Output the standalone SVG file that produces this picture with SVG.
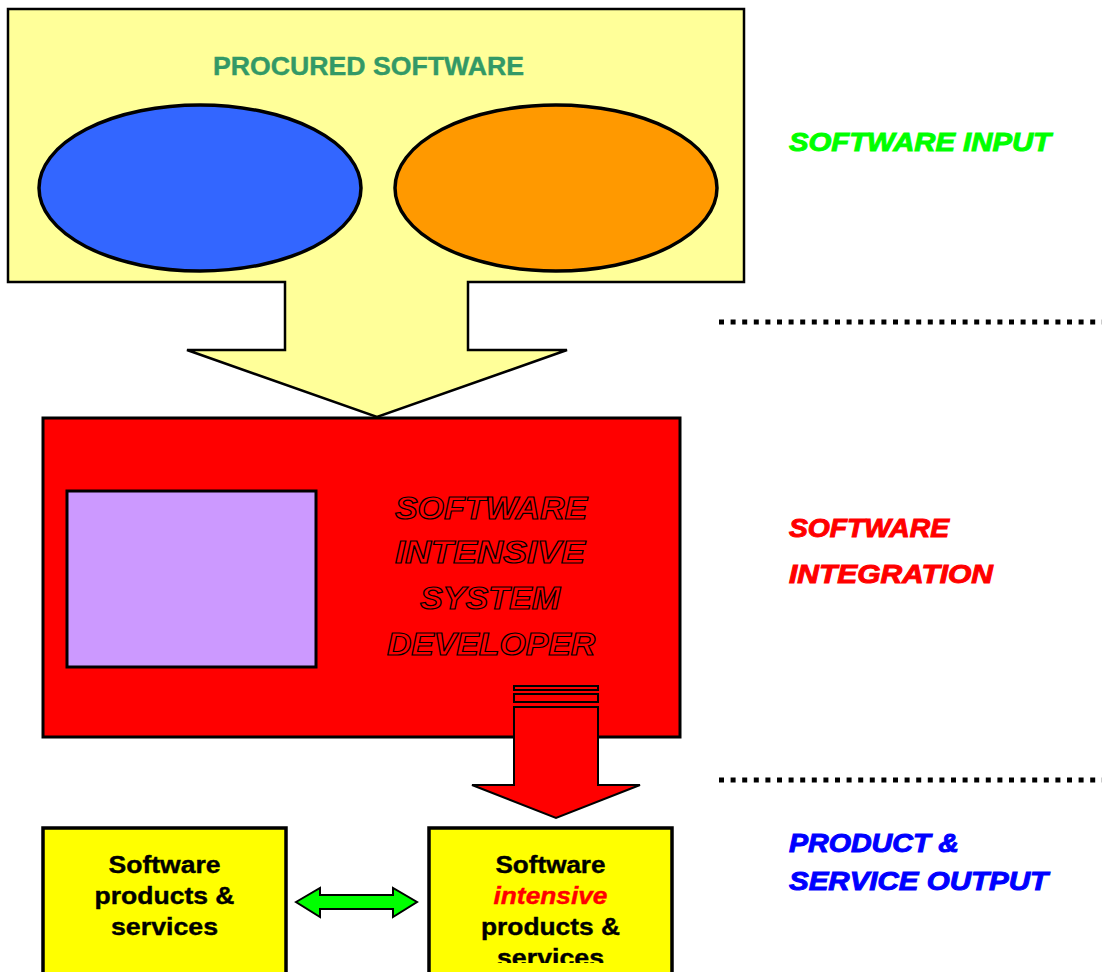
<svg xmlns="http://www.w3.org/2000/svg" width="1102" height="972" viewBox="0 0 1102 972">
  <defs>
    <style>
      .sans { font-family: "Liberation Sans", Arial, sans-serif; font-weight: bold; }
      .label { font-size: 26px; font-style: italic; stroke-width: 1; }
      .outlined { font-size: 31px; font-style: italic; fill: #FF0000; stroke: #000000; stroke-width: 1.2; }
      .boxtext { font-size: 24px; fill: #000000; stroke: #000000; stroke-width: 0.4; text-anchor: middle; }
      .dots { fill: none; stroke: #000000; stroke-width: 5; stroke-dasharray: 5 6.6; }
    </style>
    <clipPath id="rightBoxClip">
      <rect x="429" y="828" width="243" height="135"/>
    </clipPath>
  </defs>

  <rect width="1102" height="972" fill="#FFFFFF"/>

  <!-- Procured software box merged with its downward arrow -->
  <g id="procured-software">
    <path d="M8,9 H744 V282 H468 V350 H567 L377,417 L187,350 H285 V282 H8 Z" fill="#FFFF99" stroke="#000000" stroke-width="2.5" stroke-linejoin="miter"/>
    <text class="sans" x="368.5" y="75" font-size="26" fill="#339966" stroke="#339966" stroke-width="0.4" text-anchor="middle" textLength="311" lengthAdjust="spacingAndGlyphs">PROCURED SOFTWARE</text>
  </g>
  <g id="blue-ellipse">
    <ellipse cx="200" cy="188" rx="161" ry="83" fill="#3366FF" stroke="#000000" stroke-width="3.5"/>
  </g>
  <g id="orange-ellipse">
    <ellipse cx="556" cy="188" rx="161" ry="83" fill="#FF9900" stroke="#000000" stroke-width="3.5"/>
  </g>

  <!-- System developer block -->
  <g id="system-developer">
    <rect x="43" y="418" width="637" height="319" fill="#FF0000" stroke="#000000" stroke-width="3"/>
    <text class="sans outlined" x="395" y="519" textLength="192" lengthAdjust="spacingAndGlyphs">SOFTWARE</text>
    <text class="sans outlined" x="395" y="563" textLength="190" lengthAdjust="spacingAndGlyphs">INTENSIVE</text>
    <text class="sans outlined" x="420" y="609" textLength="140" lengthAdjust="spacingAndGlyphs">SYSTEM</text>
    <text class="sans outlined" x="387" y="655" textLength="208" lengthAdjust="spacingAndGlyphs">DEVELOPER</text>
  </g>
  <g id="purple-panel">
    <rect x="67" y="491" width="249" height="176" fill="#CC99FF" stroke="#000000" stroke-width="3"/>
  </g>

  <!-- Connectors -->
  <g id="connectors">
    <g id="output-arrow" fill="#FF0000" stroke="#000000" stroke-width="2">
      <rect x="514" y="686" width="84" height="4"/>
      <rect x="514" y="694" width="84" height="8"/>
      <path d="M514,707 H598 V785 H640 L556,818 L472,785 H514 Z" stroke-linejoin="miter"/>
    </g>
    <path id="exchange-arrow" d="M296,902 L320,888 V895 H393 V888 L417,902 L393,917 V909 H320 V917 Z" fill="#00FF00" stroke="#000000" stroke-width="2" stroke-linejoin="miter"/>
  </g>

  <!-- Layer separators -->
  <g id="separators">
    <line class="dots" x1="719" y1="322" x2="1102" y2="322"/>
    <line class="dots" x1="719" y1="780" x2="1102" y2="780"/>
  </g>

  <!-- Layer labels -->
  <g id="layer-labels" class="sans label">
    <text x="789" y="151" fill="#00FF00" stroke="#00FF00" textLength="262" lengthAdjust="spacingAndGlyphs">SOFTWARE INPUT</text>
    <text x="789" y="537" fill="#FF0000" stroke="#FF0000" textLength="160" lengthAdjust="spacingAndGlyphs">SOFTWARE</text>
    <text x="789" y="583" fill="#FF0000" stroke="#FF0000" textLength="204" lengthAdjust="spacingAndGlyphs">INTEGRATION</text>
    <text x="789" y="852" fill="#0000FF" stroke="#0000FF" textLength="170" lengthAdjust="spacingAndGlyphs">PRODUCT &amp;</text>
    <text x="789" y="890" fill="#0000FF" stroke="#0000FF" textLength="259" lengthAdjust="spacingAndGlyphs">SERVICE OUTPUT</text>
  </g>

  <!-- Output boxes -->
  <g id="software-products">
    <rect x="43" y="828" width="243" height="160" fill="#FFFF00" stroke="#000000" stroke-width="3.5"/>
    <text class="sans boxtext" x="164.5" y="873" textLength="112" lengthAdjust="spacingAndGlyphs">Software</text>
    <text class="sans boxtext" x="164.5" y="904" textLength="140" lengthAdjust="spacingAndGlyphs">products &amp;</text>
    <text class="sans boxtext" x="164.5" y="935" textLength="107" lengthAdjust="spacingAndGlyphs">services</text>
  </g>
  <g id="intensive-products">
    <rect x="429" y="828" width="243" height="160" fill="#FFFF00" stroke="#000000" stroke-width="3.5"/>
    <g clip-path="url(#rightBoxClip)">
      <text class="sans boxtext" x="550.5" y="873" textLength="110" lengthAdjust="spacingAndGlyphs">Software</text>
      <text class="sans boxtext" x="550.5" y="904" font-style="italic" style="fill:#FF0000;stroke:#FF0000" textLength="114" lengthAdjust="spacingAndGlyphs">intensive</text>
      <text class="sans boxtext" x="550.5" y="935" textLength="139" lengthAdjust="spacingAndGlyphs">products &amp;</text>
      <text class="sans boxtext" x="550.5" y="966" textLength="107" lengthAdjust="spacingAndGlyphs">services</text>
    </g>
  </g>
</svg>
